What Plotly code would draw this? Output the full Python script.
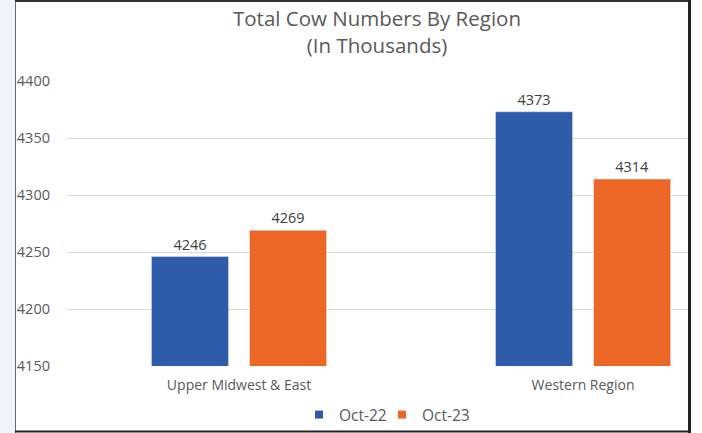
import plotly.graph_objects as go

categories = ["Upper Midwest & East", "Western Region"]
oct22 = [4246, 4373]
oct23 = [4269, 4314]
series_names = ["Oct-22", "Oct-23"]
series_colors = ["#2E5BAA", "#EC6625"]
y_ticks = [4150, 4200, 4250, 4300, 4350, 4400]

W, H = 702, 433
L, R, T, B = 67, 14, 81, 67
PW, PH = W - L - R, H - T - B

def px(x):
    return (x - L) / PW

def py(y):
    return (H - B - y) / PH

FONT = "Open Sans"
TXT = "#595959"
LBL = "#404040"

fig = go.Figure()
for name, vals, col in zip(series_names, [oct22, oct23], series_colors):
    fig.add_trace(go.Bar(x=categories, y=vals, name=name, marker_color=col,
                         text=vals, textposition="outside",
                         textfont=dict(size=14.5, color=LBL, family=FONT),
                         cliponaxis=False, showlegend=False))
# legend entries (small square keys), one legend box per series
legend_ids = ["legend", "legend2"]
for name, col, lg in zip(series_names, series_colors, legend_ids):
    fig.add_trace(go.Scatter(x=[None], y=[None], mode="markers", name=name, legend=lg,
                             marker=dict(symbol="square", size=8, color=col)))

shapes = [
    dict(type="rect", xref="paper", yref="paper", x0=px(0), x1=px(15), y0=py(H), y1=py(0),
         fillcolor="#EEF5FC", line_width=0, layer="below"),
    dict(type="line", xref="paper", yref="paper", x0=px(15.5), x1=px(15.5), y0=py(H), y1=py(1),
         line=dict(color="#6b6b6b", width=1)),
    dict(type="line", xref="paper", yref="paper", x0=px(15), x1=px(691), y0=py(1), y1=py(1),
         line=dict(color="#333333", width=2)),
    dict(type="line", xref="paper", yref="paper", x0=px(689.5), x1=px(689.5), y0=py(0), y1=py(433),
         line=dict(color="#222222", width=3)),
    dict(type="line", xref="paper", yref="paper", x0=px(15), x1=px(691), y0=py(431.5), y1=py(431.5),
         line=dict(color="#222222", width=2)),
]

legend_style = dict(orientation="h", xanchor="left", y=py(415), yanchor="middle",
                    font=dict(size=15.5, color=TXT), itemwidth=30,
                    bgcolor="rgba(0,0,0,0)")

fig.update_layout(
    width=W, height=H,
    margin=dict(l=L, r=R, t=T, b=B, autoexpand=False),
    paper_bgcolor="white", plot_bgcolor="white",
    font=dict(family=FONT, color=TXT),
    title=dict(text="Total Cow Numbers By Region<br>(In Thousands)", x=px(377), xref="paper",
               xanchor="center", y=1 - 26 / H, yanchor="middle", font=dict(size=20.5, color=TXT)),
    barmode="group", bargap=0.43, bargroupgap=0.214,
    showlegend=True,
    legend=dict(x=px(299), **legend_style),
    legend2=dict(x=px(382), **legend_style),
    shapes=shapes,
)
fig.update_xaxes(range=[-0.5, 1.305], showgrid=False, showline=False, ticks="",
                 tickfont=dict(size=14, color=TXT), ticklabelstandoff=9)
fig.update_yaxes(range=[4150, 4400], tickvals=y_ticks, showgrid=True, gridcolor="#D9D9D9",
                 zeroline=False, showline=False, tickfont=dict(size=14.5, color=TXT),
                 ticklabelstandoff=16)

fig.write_html("out.html", config={"displayModeBar": False},
               post_script="document.body.style.margin='0';")
